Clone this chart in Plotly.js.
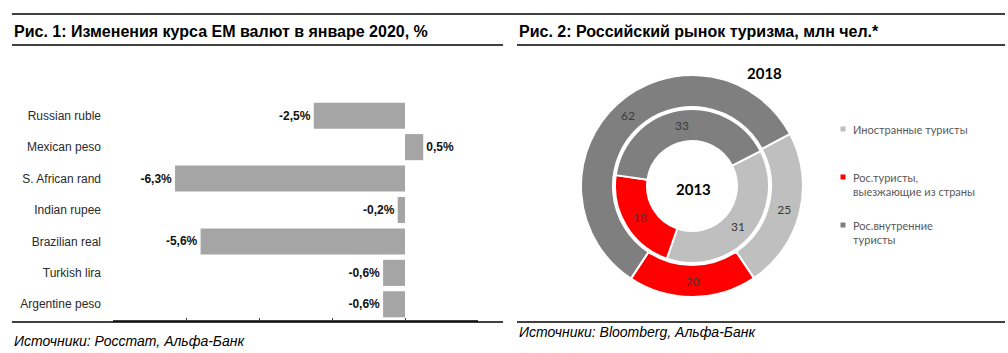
<!DOCTYPE html>
<html>
<head>
<meta charset="utf-8">
<script src="https://cdn.plot.ly/plotly-3.0.1.min.js"></script>
<style>html,body{margin:0;padding:0;background:#fff;}#chart{width:1008px;height:353px;}</style>
</head>
<body>
<div id="chart"></div>
<script>
// ---- data ----
const currencies = ['Russian ruble','Mexican peso','S. African rand','Indian rupee','Brazilian real','Turkish lira','Argentine peso'];
const changeJan2020 = [-2.5, 0.5, -6.3, -0.2, -5.6, -0.6, -0.6];

const touristGroups = ['Иностранные туристы','Рос.туристы, выезжающие из страны','Рос.внутренние туристы'];
const legendLines = [['Иностранные туристы'],['Рос.туристы,','выезжающие из страны'],['Рос.внутренние','туристы']];
const tourists2018 = [25, 20, 62];
const tourists2013 = [31, 18, 33];

const title1 = 'Рис. 1: Изменения курса EM валют в январе 2020, %';
const title2 = 'Рис. 2: Российский рынок туризма, млн чел.*';
const source1 = 'Источники: Росстат, Альфа-Банк';
const source2 = 'Источники: Bloomberg, Альфа-Банк';

// ---- helpers (pixel -> paper) ----
const W = 1008, H = 353;
const px = v => v / W;
const py = v => 1 - v / H;
const sliceColors = ['#bfbfbf', '#ff0000', '#7f7f7f'];

const barTrace = {
  type: 'bar', orientation: 'h',
  x: changeJan2020, y: currencies,
  xaxis: 'x', yaxis: 'y',
  marker: {color: '#a5a5a5'},
  texttemplate: '%{x:.1f}%', textposition: 'outside', cliponaxis: false,
  textfont: {family: 'Liberation Sans, Arial, sans-serif', size: 12, color: '#111', weight: 'bold'},
  hoverinfo: 'x+y', showlegend: false
};

function ring(values, cx, cy, r, hole, rot) {
  return {
    type: 'pie', values: values, labels: touristGroups, sort: false,
    direction: 'clockwise', rotation: rot, hole: hole,
    domain: {x: [px(cx - r), px(cx + r)], y: [py(cy + r), py(cy - r)]},
    marker: {colors: sliceColors, line: {color: '#ffffff', width: 2}},
    textinfo: 'value', textposition: 'inside', insidetextorientation: 'horizontal',
    textfont: {family: 'Lato, Noto Sans, sans-serif', size: 12, color: '#3a3a3a'},
    showlegend: false, hoverinfo: 'label+value'
  };
}
const outer = ring(tourists2018, 692, 186, 111, 0.712, 62);
const inner = ring(tourists2013, 692, 186, 77, 0.584, 63);

const lineShape = (x0, x1, y, w) => ({type: 'line', xref: 'paper', yref: 'paper',
  x0: px(x0), x1: px(x1), y0: py(y), y1: py(y), line: {color: '#000', width: w || 1.3}});

const shapes = [
  lineShape(12, 1005, 14),
  lineShape(12, 503, 45), lineShape(517, 1005, 45),
  lineShape(12, 503, 322), lineShape(517, 1005, 322)
];
const legendY = [129, 177, 225];
legendLines.forEach((lines, i) => {
  shapes.push({type: 'rect', xref: 'paper', yref: 'paper',
    x0: px(840.5), x1: px(845.5), y0: py(legendY[i] + 2.5), y1: py(legendY[i] - 2.5),
    fillcolor: sliceColors[i], line: {width: 0}});
});

const annotations = [
  {text: title1, x: px(12), y: py(31), xanchor: 'left', yanchor: 'middle',
   font: {family: 'Liberation Sans, Arial', size: 16, color: '#000', weight: 'bold'}},
  {text: title2, x: px(517), y: py(31), xanchor: 'left', yanchor: 'middle',
   font: {family: 'Liberation Sans, Arial', size: 16, color: '#000', weight: 'bold'}},
  {text: source1, x: px(12), y: py(341), xanchor: 'left', yanchor: 'middle',
   font: {family: 'Liberation Sans, Arial', size: 14, color: '#000', style: 'italic'}},
  {text: source2, x: px(517), y: py(332), xanchor: 'left', yanchor: 'middle',
   font: {family: 'Liberation Sans, Arial', size: 14, color: '#000', style: 'italic'}},
  {text: '2013', x: px(693), y: py(189), xanchor: 'center', yanchor: 'middle',
   font: {family: 'Lato, sans-serif', size: 15, color: '#000', weight: 'bold'}},
  {text: '2018', x: px(764), y: py(73), xanchor: 'center', yanchor: 'middle',
   font: {family: 'Lato, sans-serif', size: 15, color: '#000', weight: 'bold'}}
];
legendLines.forEach((lines, i) => {
  annotations.push({text: lines.join('<br>'), x: px(851), y: py(legendY[i] - 8), xanchor: 'left', yanchor: 'top',
    align: 'left', font: {family: 'Lato, Noto Sans, sans-serif', size: 11, color: '#595959'}});
});
annotations.forEach(a => { a.xref = 'paper'; a.yref = 'paper'; a.showarrow = false; });

const catTicks = currencies.map((c, i) => i - 0.5).concat([currencies.length - 0.5]);

const layout = {
  width: W, height: H, margin: {l: 0, r: 0, t: 0, b: 0},
  paper_bgcolor: '#fff', plot_bgcolor: 'rgba(0,0,0,0)',
  separators: ', ', bargap: 0.17,
  font: {family: 'Liberation Sans, Arial, sans-serif', size: 12, color: '#333'},
  xaxis: {domain: [px(113), px(478)], range: [-8, 2], tickvals: [-8,-6,-4,-2,0,2],
    showticklabels: false, showgrid: false, zeroline: false, showline: true,
    linecolor: '#404040', linewidth: 2, ticks: 'inside', ticklen: 2, tickcolor: '#404040', fixedrange: true},
  yaxis: {domain: [py(320), py(100)], autorange: 'reversed', showgrid: false, zeroline: false,
    showline: false, ticks: '', ticklabelstandoff: 11,
    tickfont: {family: 'Liberation Sans, Arial', size: 12, color: '#2a2a2a'}, fixedrange: true},
  yaxis2: {overlaying: 'y', anchor: 'free', position: px(405), side: 'left',
    range: [currencies.length - 0.5, -0.5], tickvals: catTicks, showticklabels: false,
    showgrid: false, zeroline: false, showline: true, linecolor: '#222', linewidth: 1.3,
    ticks: 'outside', ticklen: 3, tickcolor: '#222', fixedrange: true},
  shapes: shapes, annotations: annotations
};

Plotly.newPlot('chart', [barTrace, outer, inner], layout, {displayModeBar: false, staticPlot: true});
</script>
</body>
</html>
